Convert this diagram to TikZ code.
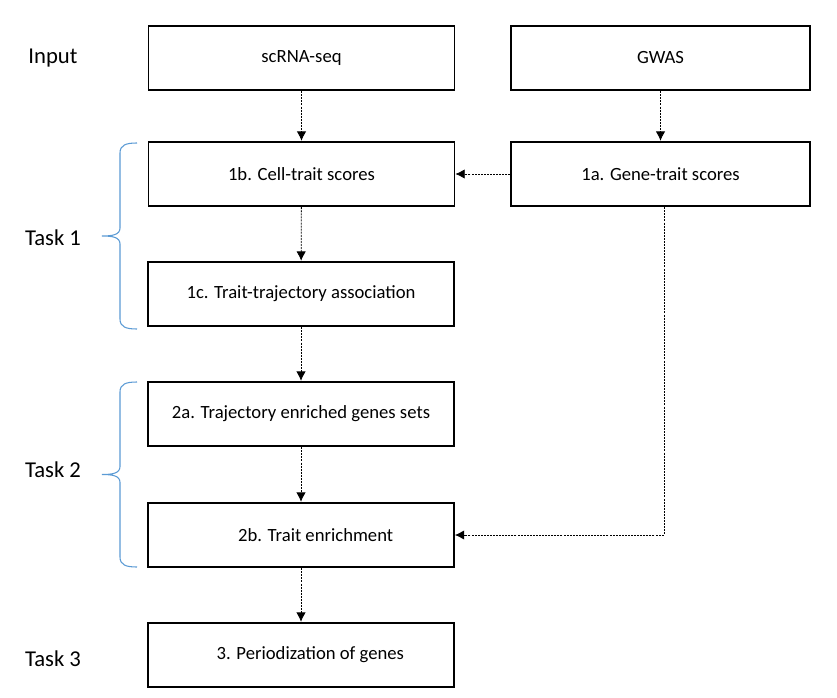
\documentclass[tikz,border=0pt]{standalone}
\usepackage{fontspec}
\setmainfont{Carlito}
\usetikzlibrary{arrows.meta}
\definecolor{braceblue}{RGB}{91,155,213}
\tikzset{
  stagebox/.style={draw=black,line width=1.3pt,fill=white,minimum height=48.5pt,
    font=\fontsize{14}{16}\selectfont,inner sep=0pt},
  leftbox/.style={stagebox,minimum width=229.5pt},
  rightbox/.style={stagebox,minimum width=224pt},
  tasklabel/.style={font=\fontsize{17}{20}\selectfont,inner sep=0pt},
  flow/.style={dash pattern=on 1.5pt off 0.8pt,line width=0.6pt,-{Latex[length=7pt,width=7pt]}}
}
\begin{document}
\begin{tikzpicture}[x=0.75pt,y=-0.75pt]
  \useasboundingbox[fill=white] (0,0) rectangle (837,698);

  % labels on the left
  \node[tasklabel] (input) at (53,58) {Input};
  \node[tasklabel] (task1) at (53,238) {Task 1};
  \node[tasklabel] (task2) at (53,470) {Task 2};
  \node[tasklabel] (task3) at (53,659) {Task 3};

  % boxes
  \node[leftbox] (scrna) at (301.5,58) {scRNA-seq};
  \node[rightbox] (gwas) at (660.5,58) {GWAS};
  \node[leftbox] (cell) at (301.5,174) {1b. Cell-trait scores};
  \node[rightbox] (gene) at (660.5,174) {1a. Gene-trait scores};
  \node[leftbox] (assoc) at (301,294) {1c. Trait-trajectory association};
  \node[leftbox] (enriched) at (301,414) {2a. Trajectory enriched genes sets};
  \node[leftbox] (traitenr) at (301,535) {\hspace{22pt}2b. Trait enrichment};
  \node[leftbox] (period) at (301,655) {\hspace{14pt}3. Periodization of genes};

  % arrows
  \draw[flow] (scrna) -- (cell);
  \draw[flow] (gwas) -- (gene);
  \draw[flow] (gene) -- (cell);
  \draw[flow] (cell) -- (assoc);
  \draw[flow] (assoc) -- (enriched);
  \draw[flow] (enriched) -- (traitenr);
  \draw[flow] (traitenr) -- (period);
  \draw[flow] (gene.south -| 664,0) |- (traitenr.east);

  % braces
  \foreach \t/\b in {143/329,382/567}
  \draw[braceblue,line width=0.8pt]
    (137,\t) .. controls (126,\t) and (120,\t+2) .. (120,\t+10)
    -- (120,{(\t+\b)/2-8}) .. controls (120,{(\t+\b)/2-1}) and (112,{(\t+\b)/2}) .. (102,{(\t+\b)/2})
    .. controls (112,{(\t+\b)/2}) and (120,{(\t+\b)/2+1}) .. (120,{(\t+\b)/2+8})
    -- (120,\b-10) .. controls (120,\b-2) and (126,\b) .. (137,\b);
\end{tikzpicture}
\end{document}
